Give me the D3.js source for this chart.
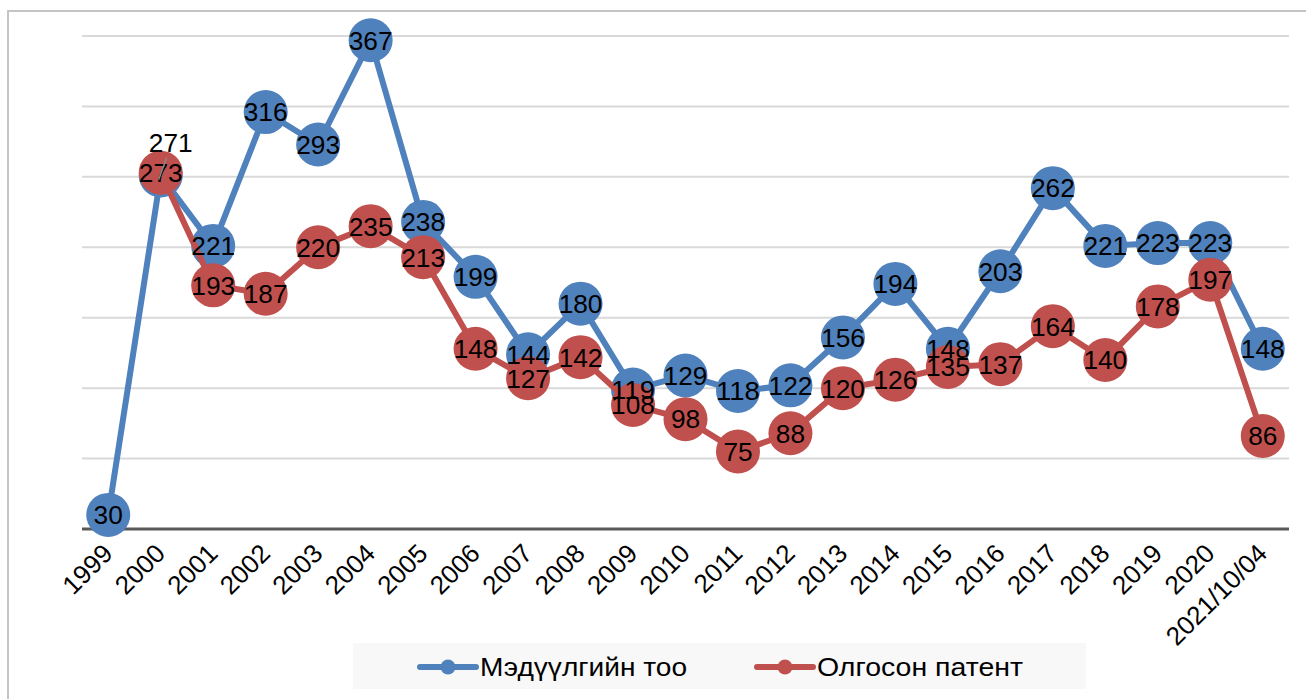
<!DOCTYPE html>
<html>
<head>
	<meta charset="utf-8">
	<title></title>
	<style>
		body { margin: 0; background: #fff; }
		text { font-family: "Liberation Sans", Arial, sans-serif; }
	</style>
</head>
<body>
	<svg id="container" height="699" width="1306"></svg>
</body>
<script src="https://d3js.org/d3.v7.min.js"></script>
<script>
	let years = ["1999","2000","2001","2002","2003","2004","2005","2006","2007","2008","2009","2010",
		"2011","2012","2013","2014","2015","2016","2017","2018","2019","2020","2021/10/04"]
	// Мэдүүлгийн тоо
	let applications = [30,271,221,316,293,367,238,199,144,180,119,129,118,122,156,194,148,203,262,221,223,223,148]
	// Олгосон патент (1999 - no value)
	let granted = [null,273,193,187,220,235,213,148,127,142,108,98,75,88,120,126,135,137,164,140,178,197,86]
	let yTicks = [20,70,120,170,220,270,320,370]
	let seriesNames = ["Мэдүүлгийн тоо", "Олгосон патент"]
	let colors = ["#4f81bd", "#c0504d"]

	let svg = d3.select("#container")

	// outer chart border (right/bottom run off the picture)
	svg.append("rect")
		.attr("x", 8).attr("y", 11)
		.attr("width", 1400).attr("height", 800)
		.attr("fill", "white")
		.attr("stroke", "#c4c4c4")
		.attr("stroke-width", 2)

	let x = d3.scaleBand()
		.domain(years)
		.range([82, 1289])
	let cx = d => x(d) + x.bandwidth()/2

	let y = d3.scaleLinear()
		.domain([20, 370])
		.range([529, 36])

	// gridlines
	svg.append("g")
		.selectAll("line")
		.data(yTicks.slice(1))
		.enter().append("line")
		.attr("x1", 82).attr("x2", 1289)
		.attr("y1", d => y(d)).attr("y2", d => y(d))
		.attr("stroke", "#d9d9d9")
		.attr("stroke-width", 2)

	// x axis
	let xAxis = svg.append("g")
		.attr("transform", "translate(0," + y(20) + ")")
		.call(d3.axisBottom(x).tickSize(0).tickPadding(0))
	xAxis.select(".domain")
		.attr("d", "M82,0H1289")
		.attr("stroke", "#595959")
		.attr("stroke-width", 3)
	xAxis.selectAll("text")
		.attr("font-size", 26)
		.attr("fill", "#000")
		.attr("text-anchor", "end")
		.attr("dy", 0)
		.attr("transform", "translate(6,26) rotate(-45)")

	let series = [applications, granted]
	let line = d3.line()
		.defined(d => d.v != null)
		.x(d => cx(d.year))
		.y(d => y(d.v))

	let pts = series.map(s => years.map((yr, i) => ({year: yr, v: s[i]})))

	pts.forEach((p, k) => {
		let g = svg.append("g")
		g.append("path")
			.datum(p)
			.attr("d", line)
			.attr("fill", "none")
			.attr("stroke", colors[k])
			.attr("stroke-width", 6)
			.attr("stroke-linejoin", "round")
		g.selectAll("circle")
			.data(p.filter(d => d.v != null))
			.enter().append("circle")
			.attr("cx", d => cx(d.year))
			.attr("cy", d => y(d.v))
			.attr("r", 22)
			.attr("fill", colors[k])
	})

	// data labels
	pts.forEach((p, k) => {
		let g = svg.append("g")
		g.selectAll("text")
			.data(p.filter(d => d.v != null))
			.enter().append("text")
			.attr("x", d => cx(d.year) + ((k == 0 && d.year == "2000") ? 10 : 0))
			.attr("y", d => y(d.v) + ((k == 0 && d.year == "2000") ? -33 : 0))
			.attr("dy", "0.36em")
			.attr("text-anchor", "middle")
			.attr("font-size", 26)
			.attr("textLength", d => String(d.v).length * 14.6)
			.attr("lengthAdjust", "spacingAndGlyphs")
			.attr("fill", "#000")
			.text(d => d.v)
	})
	// leader line for the lifted 2000 label
	svg.append("line")
		.attr("x1", cx("2000") + 6).attr("y1", y(271) - 18)
		.attr("x2", cx("2000") - 2).attr("y2", y(271) + 4)
		.attr("stroke", "#888").attr("stroke-width", 1.5)

	// legend
	let legend = svg.append("g")
	legend.append("rect")
		.attr("x", 353).attr("y", 643)
		.attr("width", 733).attr("height", 46)
		.attr("fill", "#f8f8f8")
	let legX = [420, 757]
	let legW = [207, 206]
	seriesNames.forEach((name, k) => {
		let lg = legend.append("g").attr("transform", "translate(" + legX[k] + ",667)")
		lg.append("line")
			.attr("x1", 0).attr("x2", 56)
			.attr("stroke", colors[k])
			.attr("stroke-width", 6)
			.attr("stroke-linecap", "round")
		lg.append("circle")
			.attr("cx", 28).attr("r", 7.5)
			.attr("fill", colors[k])
		lg.append("text")
			.attr("x", 60)
			.attr("dy", "0.36em")
			.attr("font-size", 26)
			.attr("textLength", legW[k])
			.attr("lengthAdjust", "spacingAndGlyphs")
			.attr("fill", "#000")
			.text(name)
	})
</script>
</html>
